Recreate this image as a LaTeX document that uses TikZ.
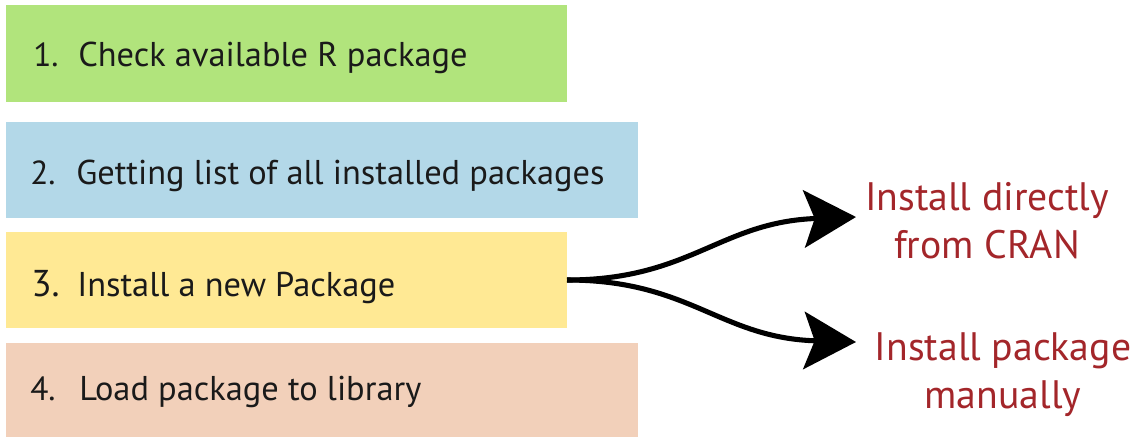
\documentclass[tikz,border=0pt]{standalone}
\usepackage{fontspec}
\setmainfont{PT Sans}
\usetikzlibrary{arrows.meta}
\definecolor{stepgreen}{HTML}{B1E47C}
\definecolor{stepblue}{HTML}{B3D8E8}
\definecolor{stepyellow}{HTML}{FFE994}
\definecolor{steppeach}{HTML}{F2D0BA}
\definecolor{optred}{HTML}{A3262A}
\definecolor{steptext}{HTML}{1A1A1A}
\begin{document}
\begin{tikzpicture}[x=0.75pt,y=-0.75pt,
  stepbox/.style={draw=none,inner sep=0pt,outer sep=0pt},
  steplabel/.style={anchor=base west,inner sep=0pt,text=steptext,font=\fontsize{25.8}{30}\selectfont},
  stepnum/.style={anchor=base west,inner sep=0pt,text=steptext,font=\fontsize{25}{30}\selectfont},
  optlabel/.style={align=center,text=optred,inner sep=0pt,font=\fontsize{29.8}{36}\selectfont},
  branch/.style={line width=3.8pt,-{Stealth[length=39pt,width=43pt,inset=8pt]}}]
\useasboundingbox (0,0) rectangle (1140,437);
% coloured step bars
\fill[stepgreen]  (6,5)   rectangle (567,102);
\fill[stepblue]   (6,122) rectangle (638,218);
\fill[stepyellow] (6,232) rectangle (567,328);
\fill[steppeach]  (6,343) rectangle (638,437);
\node[stepbox] (s3) at (286.5,280) [minimum width=420.75pt,minimum height=72pt] {};
% step texts
\node[stepnum]   (n1) at (33,66)  {1.};
\node[steplabel] (t1) at (78,66)  {Check available R package};
\node[stepnum]   (n2) at (30,184) {2.};
\node[steplabel] (t2) at (76,184) {Getting list of all installed packages};
\node[stepnum,font=\fontsize{28}{32}\selectfont] (n3) at (31,296) {3.};
\node[steplabel] (t3) at (77,296) {Install a new Package};
\node[stepnum]   (n4) at (30,400) {4.};
\node[steplabel] (t4) at (79,400) {Load package to library};
% install options
\node[optlabel] (o1) at (987,221) {Install directly\\from CRAN};
\node[optlabel] (o2) at (1003,375) {Install package\\manually};
\coordinate (tip1) at (856,217);
\coordinate (tip2) at (856,342);
% branching arrows
\draw[branch] (s3.east) .. controls (690,280) and (720,222) .. (tip1);
\draw[branch] (s3.east) .. controls (690,280) and (720,338) .. (tip2);
\end{tikzpicture}
\end{document}
